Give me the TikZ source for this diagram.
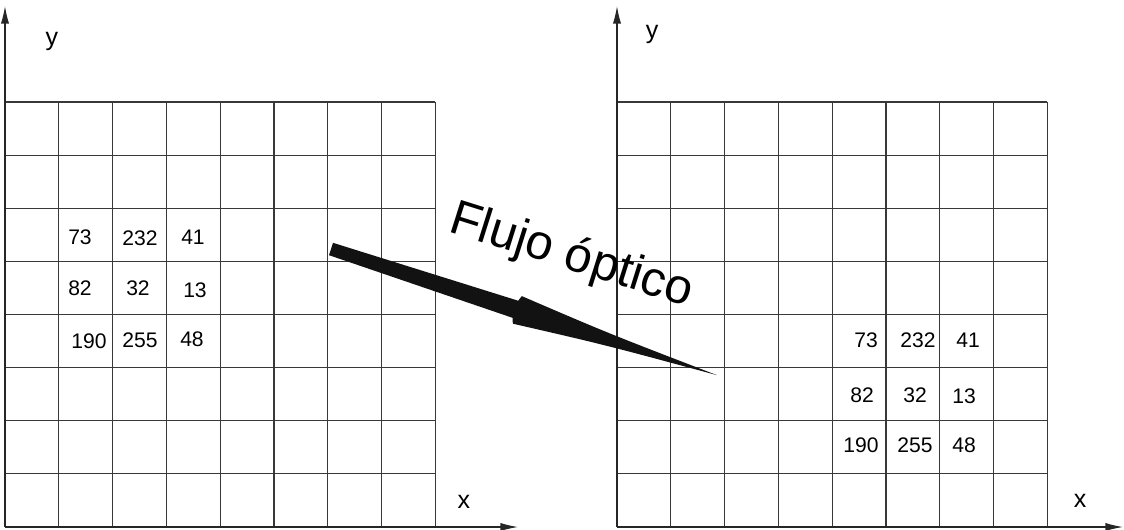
\documentclass[tikz,border=0pt]{standalone}
\usepackage{fontspec}
\setmainfont{Liberation Sans}
\usetikzlibrary{arrows.meta}
\tikzset{
  cell/.style={draw=black!78, line width=0.75pt},
  axis/.style={draw=black!85, line width=0.85pt, -{Latex[length=12.5pt,width=5.8pt]}},
  val/.style={anchor=base, inner sep=0pt, font=\fontsize{15}{18}\selectfont},
  axlabel/.style={anchor=base, inner sep=0pt, font=\fontsize{17.8}{20}\selectfont},
}
\begin{document}
\begin{tikzpicture}[x=0.025cm, y=-0.025cm]
        \useasboundingbox (0,0) rectangle (1124,529);
        % grid left
        \draw[cell] (5,102) -- (435.4,102) (5,155.1) -- (435.4,155.1) (5,208.3) -- (435.4,208.3) (5,261.4) -- (435.4,261.4);
        \draw[cell] (5,314.5) -- (435.4,314.5) (5,367.6) -- (435.4,367.6) (5,420.8) -- (435.4,420.8) (5,473.9) -- (435.4,473.9);
        \draw[cell] (58.8,102) -- (58.8,527) (112.6,102) -- (112.6,527) (166.4,102) -- (166.4,527) (220.2,102) -- (220.2,527);
        \draw[cell] (274,102) -- (274,527) (327.8,102) -- (327.8,527) (381.6,102) -- (381.6,527) (435.4,102) -- (435.4,527);
        % grid right
        \draw[cell] (617,102) -- (1047.4,102) (617,155.1) -- (1047.4,155.1) (617,208.3) -- (1047.4,208.3) (617,261.4) -- (1047.4,261.4);
        \draw[cell] (617,314.5) -- (1047.4,314.5) (617,367.6) -- (1047.4,367.6) (617,420.8) -- (1047.4,420.8) (617,473.9) -- (1047.4,473.9);
        \draw[cell] (670.8,102) -- (670.8,527) (724.6,102) -- (724.6,527) (778.4,102) -- (778.4,527) (832.2,102) -- (832.2,527);
        \draw[cell] (886,102) -- (886,527) (939.8,102) -- (939.8,527) (993.6,102) -- (993.6,527) (1047.4,102) -- (1047.4,527);

        % axes
        \coordinate (lorig) at (5,527);\coordinate (ltop) at (5,6);\coordinate (lend) at (518,527);
        \coordinate (rorig) at (617,527);\coordinate (rtop) at (617,6);\coordinate (rend) at (1123,527);
        \draw[axis] (lorig) -- (ltop);\draw[axis] (lorig) -- (lend);
        \draw[axis] (rorig) -- (rtop);\draw[axis] (rorig) -- (rend);
        \node[axlabel] (ly) at (52,45) {y};\node[axlabel] (lx) at (464,508) {x};
        \node[axlabel] (ry) at (652,38) {y};\node[axlabel] (rx) at (1080,507) {x};

        % values left
        \node[val] (la1) at (80,244) {73};\node[val] (la2) at (140,245) {232};\node[val] (la3) at (193,244) {41};
        \node[val] (lb1) at (80,295) {82};\node[val] (lb2) at (138,295) {32};\node[val] (lb3) at (195,297) {13};
        \node[val] (lc1) at (89,348) {190};\node[val] (lc2) at (140,347) {255};\node[val] (lc3) at (192,346) {48};
        % values right
        \node[val] (ra1) at (866,347) {73};\node[val] (ra2) at (918,347) {232};\node[val] (ra3) at (968,347) {41};
        \node[val] (rb1) at (862,402) {82};\node[val] (rb2) at (915,402) {32};\node[val] (rb3) at (964,403) {13};
        \node[val] (rc1) at (861,452) {190};\node[val] (rc2) at (915,452) {255};\node[val] (rc3) at (964,452) {48};

        % flow arrow
        \coordinate (flowtail) at (331,249);
        \begin{scope}[shift={(flowtail)}, rotate=-18.1]
            \fill[black!93] (0,-6.5) -- (194,-9) -- (196,-14.5) .. controls (290,-6) .. (406,0) .. controls (290,6) .. (196,14.5) -- (194,9) -- (0,6.5) -- cycle;
        \end{scope}
        \node[anchor=base west, inner sep=0pt, rotate=-17.5, font=\fontsize{35}{40}\selectfont] (flow) at (447,231) {Flujo óptico};
    \end{tikzpicture}
\end{document}
